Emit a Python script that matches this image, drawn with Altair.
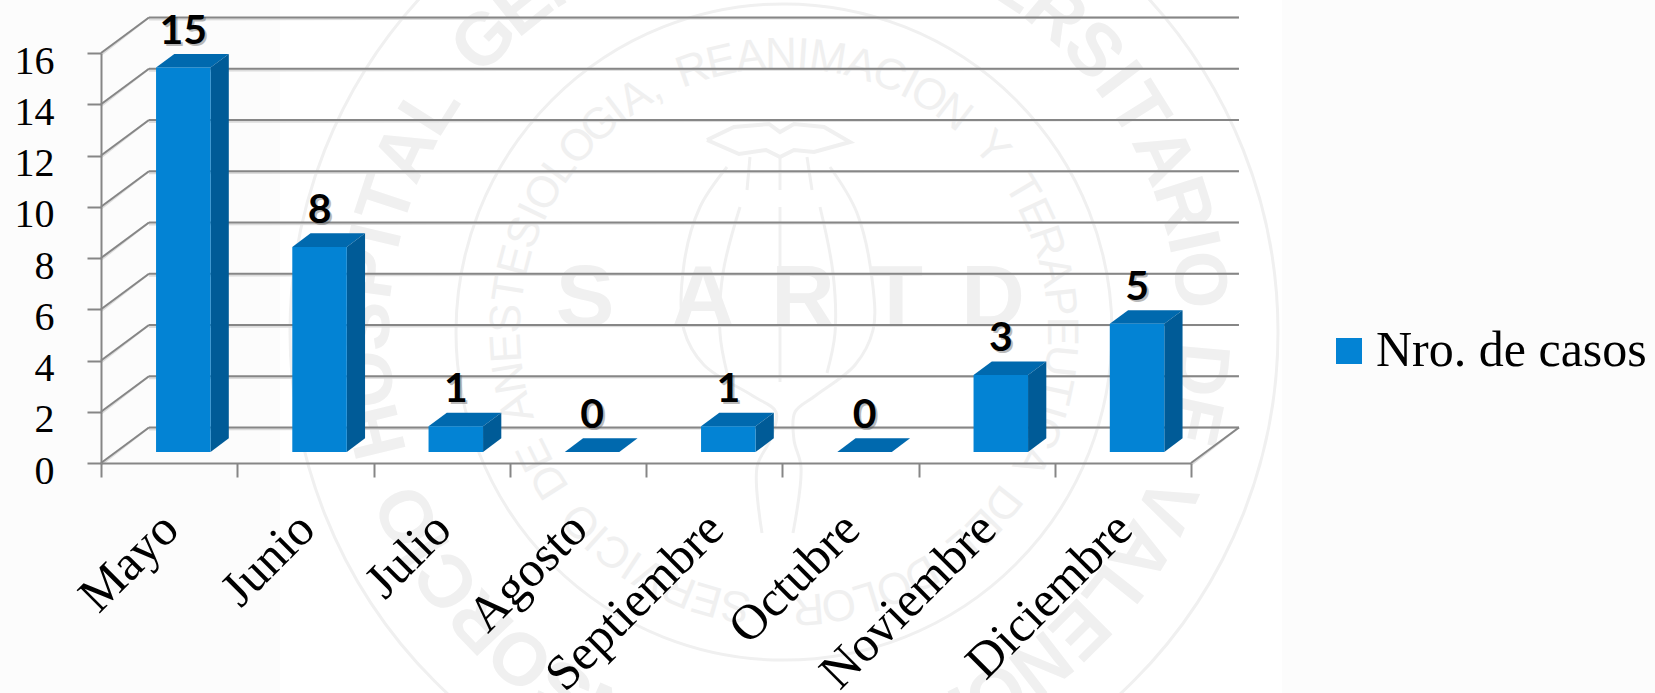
import math
import altair as alt
import pandas as pd

# Cases per month
MONTHS = ["Mayo", "Junio", "Julio", "Agosto", "Septiembre", "Octubre", "Noviembre", "Diciembre"]
CASES = [15, 8, 1, 0, 1, 0, 3, 5]
SERIES = "Nro. de casos"
Y_TICKS = list(range(0, 17, 2))

# Pseudo-3D box proportions, in category and value units
BAR_START = 0.404
BAR_WIDTH = 0.40
BAR_BASE = 0.43
BAR_DX = 0.134
BAR_DY = 0.535
WALL_DX = 0.352
WALL_DY = 1.385

FRONT = "#0383d4"
TOP = "#0069ae"
SIDE = "#005b97"
LINE = "#868686"
LINE_SOFT = "#dcdcdc"
SEAL = "#f0f0f0"
STRIP = "#fcfcfc"
SERIF = "Liberation Serif"

# Seal: units are pixels around its centre
SEAL_OUTER_TEXT = "CONSORCIO HOSPITAL GENERAL UNIVERSITARIO DE VALENCIA"
SEAL_INNER_TEXT = "SERVICIO DE ANESTESIOLOGIA, REANIMACION Y TERAPEUTICA DEL DOLOR"
SEAL_CENTRE = ["S", "A", "R", "T", "D"]
SEAL_CENTRE_X = [-199, -81, 19, 112, 209]
SEAL_RINGS = [494, 328]
POD_LEFT_X = [-57, -84, -100, -100, -80, -31, -8, -14, -27, -22]
POD_LEFT_Y = [-165, -125, -68, -2, 33, 64, 80, 108, 135, 201]
POD_RIGHT_X = [46, 73, 89, 89, 71, 31, 11, 10, 17, 9]
POD_RIGHT_Y = [-165, -119, -45, -2, 33, 64, 80, 108, 135, 201]
POD_RIB_X = [[-4, -4, -4], [-44, -61, -64, -57], [36, 49, 51, 43], [-34, -37], [23, 28], [-4, -4]]
POD_RIB_Y = [[-125, -30, 50], [-125, -59, 1, 41], [-125, -59, 1, 41], [-175, -142], [-175, -142], [-175, -142]]
CROWN_X = [-77, -50, -15, -4, 10, 40, 66, 30, 10, -4, -18, -45, -77]
CROWN_Y = [-192, -205, -208, -200, -208, -205, -190, -180, -182, -175, -182, -178, -192]

# Chart frame
PLOT_W, PLOT_H = 1090, 410
PAD = {"left": 101, "top": 53, "right": 464, "bottom": 230}
SEAL_PX = (683, 279)

x_cat = alt.Scale(domain=[0, 8], range=[0, PLOT_W])
y_val = alt.Scale(domain=[0, 16], range=[PLOT_H, 0])
x_seal = alt.Scale(domain=[-494, 494], range=[SEAL_PX[0] - 494, SEAL_PX[0] + 494])
y_seal = alt.Scale(domain=[-494, 494], range=[SEAL_PX[1] - 494, SEAL_PX[1] + 494])


def qx(field="x"):
    return alt.X(f"{field}:Q", scale=x_cat, axis=None)


def qy(field="y"):
    return alt.Y(f"{field}:Q", scale=y_val, axis=None)


def sx(field="x"):
    return alt.X(f"{field}:Q", scale=x_seal, axis=None)


def sy(field="y"):
    return alt.Y(f"{field}:Q", scale=y_seal, axis=None)


def ring_text(text, radius, start, span):
    weights = {" ": 0.7, "I": 0.45, ",": 0.4, "M": 1.2, "L": 0.9, "E": 0.95, "T": 0.95}
    w = [weights.get(c, 1.0) for c in text]
    total = sum(w) - w[0] / 2 - w[-1] / 2
    rows, run = [], 0.0
    for i, c in enumerate(text):
        if i:
            run += (w[i - 1] + w[i]) / 2
        theta = start + span * run / total
        t = math.radians(theta)
        rows.append({"x": radius * math.sin(t), "y": -radius * math.cos(t), "ch": c, "angle": theta % 360})
    return pd.DataFrame(rows)


strips = alt.Chart(pd.DataFrame({"x": [-800, 498], "x2": [-504, 900]})).mark_rect(color=STRIP).encode(
    x=sx(), x2="x2:Q", y=alt.value(-60), y2=alt.value(700)
)

# Symbol size is the square of the diameter
rings = alt.Chart(pd.DataFrame({"x": [0, 0], "y": [0, 0], "r": SEAL_RINGS})).transform_calculate(
    area="4 * datum.r * datum.r"
).mark_point(filled=False, color=SEAL, strokeWidth=3, opacity=1).encode(
    x=sx(), y=sy(), size=alt.Size("area:Q", scale=None, legend=None)
)

outer_text = alt.Chart(ring_text(SEAL_OUTER_TEXT, 417, 190, 330)).mark_text(
    font="Liberation Sans", fontSize=74, color=SEAL, baseline="middle", align="center", fontWeight="bold"
).encode(x=sx(), y=sy(), text="ch:N", angle=alt.Angle("angle:Q", scale=None))

inner_text = alt.Chart(ring_text(SEAL_INNER_TEXT, 277, 190, 345)).mark_text(
    font="Liberation Sans", fontSize=44, color=SEAL, baseline="middle", align="center"
).encode(x=sx(), y=sy(), text="ch:N", angle=alt.Angle("angle:Q", scale=None))

centre_text = alt.Chart(pd.DataFrame({"x": SEAL_CENTRE_X, "y": [-6] * 5, "ch": SEAL_CENTRE})).mark_text(
    font="Liberation Sans", fontSize=88, color=SEAL, baseline="alphabetic", align="center", fontWeight="bold"
).encode(x=sx(), y=sy(), text="ch:N")

pod_rows = []
outlines = [(POD_LEFT_X, POD_LEFT_Y), (POD_RIGHT_X, POD_RIGHT_Y)] + list(zip(POD_RIB_X, POD_RIB_Y))
for part, (xs, ys) in enumerate(outlines):
    for px, py in zip(xs, ys):
        pod_rows.append({"part": part, "x": px, "y": py, "o": len(pod_rows)})

pod = alt.Chart(pd.DataFrame(pod_rows)).mark_line(color=SEAL, strokeWidth=3, interpolate="catmull-rom").encode(
    x=sx(), y=sy(), detail="part:N", order="o:Q"
)

crown = alt.Chart(
    pd.DataFrame({"x": CROWN_X, "y": CROWN_Y, "o": list(range(len(CROWN_X)))})
).mark_line(color=SEAL, strokeWidth=4).encode(x=sx(), y=sy(), order="o:Q")

# Back wall and floor
wall_rows = []
for v in Y_TICKS:
    wall_rows.append({"x": WALL_DX, "x2": 8 + WALL_DX, "y": v + WALL_DY, "y2": v + WALL_DY})
    wall_rows.append({"x": 0, "x2": WALL_DX, "y": v, "y2": v + WALL_DY})
wall_rows.append({"x": 8, "x2": 8 + WALL_DX, "y": 0, "y2": WALL_DY})
wall_df = pd.DataFrame(wall_rows)

wall_soft = alt.Chart(wall_df).mark_rule(color=LINE_SOFT, strokeWidth=2, yOffset=2).encode(
    x=qx(), x2="x2:Q", y=qy(), y2="y2:Q"
)
wall = alt.Chart(wall_df).mark_rule(color=LINE, strokeWidth=2).encode(
    x=qx(), x2="x2:Q", y=qy(), y2="y2:Q"
)

# Box faces
front_rows, side_rows, top_rows, label_rows = [], [], [], []
for i, (month, v) in enumerate(zip(MONTHS, CASES)):
    xl = i + BAR_START
    xr = xl + BAR_WIDTH
    if v > 0:
        front_rows.append({"month": month, "x": xl, "x2": xr, "y": BAR_BASE + v, "y2": BAR_BASE, "series": SERIES})
        side_rows.append({"month": month, "x": xr, "y": BAR_BASE + v, "y2": BAR_BASE})
        side_rows.append({"month": month, "x": xr + BAR_DX, "y": BAR_BASE + v + BAR_DY, "y2": BAR_BASE + BAR_DY})
    top_rows.append({"month": month, "y": BAR_BASE + v, "x": xl, "x2": xr})
    top_rows.append({"month": month, "y": BAR_BASE + v + BAR_DY, "x": xl + BAR_DX, "x2": xr + BAR_DX})
    label_rows.append({"month": month, "x": xl + BAR_WIDTH / 2, "y": BAR_BASE + v, "value": v})

front = alt.Chart(pd.DataFrame(front_rows)).mark_rect().encode(
    x=qx(), x2="x2:Q", y=qy(), y2="y2:Q",
    color=alt.Color(
        "series:N",
        scale=alt.Scale(domain=[SERIES], range=[FRONT]),
        legend=alt.Legend(
            title=None, orient="none", legendX=1223, legendY=273,
            symbolType="square", symbolSize=676, symbolStrokeWidth=0, symbolOpacity=1,
            labelFont=SERIF, labelFontSize=50, labelColor="#000000", labelOffset=2, labelLimit=400,
        ),
    ),
)
side = alt.Chart(pd.DataFrame(side_rows)).mark_area(color=SIDE, opacity=1).encode(
    x=qx(), y=qy(), y2="y2:Q", detail="month:N"
)
top = alt.Chart(pd.DataFrame(top_rows)).mark_area(color=TOP, opacity=1, orient="horizontal").encode(
    y=qy(), x=qx(), x2="x2:Q", detail="month:N"
)

labels_df = pd.DataFrame(label_rows)
label_args = dict(font="Lato", fontSize=41, fontWeight="bold", baseline="alphabetic", align="center")
label_shadow = alt.Chart(labels_df).mark_text(color="#555555", opacity=0.4, dy=-22, dx=2, **label_args).encode(
    x=qx(), y=qy(), text="value:Q"
)
label_text = alt.Chart(labels_df).mark_text(color="#000000", dy=-24, **label_args).encode(
    x=qx(), y=qy(), text="value:Q"
)

# Axes, carried by an invisible layer so the ticks can sit on band edges
axes = alt.Chart(pd.DataFrame({"month": MONTHS, "value": CASES})).mark_bar(opacity=0).encode(
    x=alt.X(
        "month:N", sort=MONTHS, title=None,
        scale=alt.Scale(type="band", domain=MONTHS, range=[0, PLOT_W], paddingInner=0, paddingOuter=0),
        axis=alt.Axis(
            tickBand="extent", tickSize=14, tickColor=LINE, tickWidth=2, domainColor=LINE, domainWidth=2,
            labelAngle=-45, labelAlign="right", labelBaseline="middle", labelPadding=44, labelOffset=1,
            labelFont=SERIF, labelFontSize=50, labelColor="#000000", labelLimit=500, labelOverlap=False,
            labelBound=False, labelFlush=False, zindex=1,
        ),
    ),
    y=alt.Y(
        "value:Q", title=None, scale=y_val,
        axis=alt.Axis(
            values=Y_TICKS, tickSize=14, tickColor=LINE, tickWidth=2, domainColor=LINE, domainWidth=2,
            labelFont=SERIF, labelFontSize=40, labelColor="#000000", labelPadding=33,
            labelBaseline="alphabetic", labelOffset=20, labelOverlap=False, labelBound=False,
            labelFlush=False, grid=False, zindex=1,
        ),
    ),
)

chart = alt.layer(
    strips, rings, outer_text, inner_text, centre_text, pod, crown,
    wall_soft, wall, axes, top, side, front, label_shadow, label_text,
).resolve_scale(x="independent", y="independent").properties(
    width=PLOT_W, height=PLOT_H, padding=PAD,
    autosize=alt.AutoSizeParams(type="none"), background="#ffffff",
).configure_view(stroke=None)

chart.save("out.html", embed_options={"renderer": "svg", "actions": False})
